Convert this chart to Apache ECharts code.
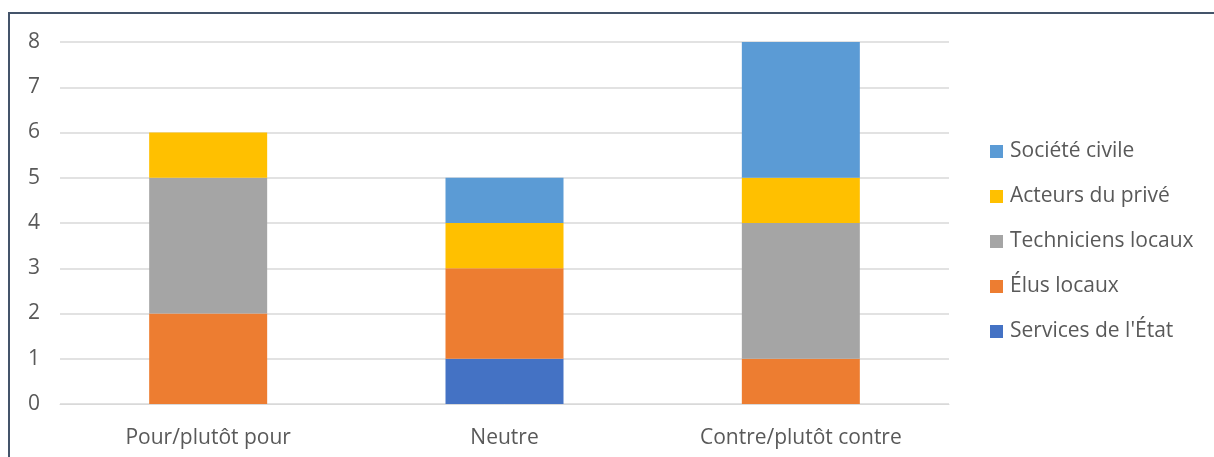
<!DOCTYPE html>
<html><head><meta charset="utf-8">
<script src="https://cdn.jsdelivr.net/npm/echarts@6/dist/echarts.min.js"></script>
<style>html,body{margin:0;padding:0;background:#fff}#c{width:1214px;height:457px}</style>
</head><body><div id="c"></div>
<script>
const categories = ['Pour/plutôt pour', 'Neutre', 'Contre/plutôt contre'];
const seriesNames = ["Services de l'État", 'Élus locaux', 'Techniciens locaux', 'Acteurs du privé', 'Société civile'];
const servicesEtat = [0, 1, 0];
const elusLocaux = [2, 2, 1];
const techniciensLocaux = [3, 0, 3];
const acteursPrive = [1, 1, 1];
const societeCivile = [0, 1, 3];
const colors = ['#4472C4', '#ED7D31', '#A5A5A5', '#FFC000', '#5B9BD5'];
const yTicks = [0, 1, 2, 3, 4, 5, 6, 7, 8];

const values = [servicesEtat, elusLocaux, techniciensLocaux, acteursPrive, societeCivile];
const font = 'Open Sans';
const chart = echarts.init(document.getElementById('c'));
chart.setOption({
  animation: false,
  textStyle: { fontFamily: font },
  graphic: [{
    type: 'rect', shape: { x: 9, y: 13, width: 1230, height: 470 },
    style: { fill: 'none', stroke: '#44546A', lineWidth: 2 }, silent: true
  }],
  grid: { left: 60, right: 265, top: 42, bottom: 53 },
  legend: {
    orient: 'vertical', left: 990, top: 141, padding: 0, itemWidth: 13, itemHeight: 13, itemGap: 24,
    icon: 'rect',
    data: seriesNames.slice().reverse(),
    textStyle: { fontFamily: font, fontSize: 21, color: '#595959', padding: [0, 0, 0, 2] }
  },
  xAxis: {
    type: 'category', data: categories,
    axisLine: { lineStyle: { color: '#D9D9D9' } }, axisTick: { show: false },
    axisLabel: { fontFamily: font, fontSize: 21, color: '#595959', margin: 24 }
  },
  yAxis: {
    type: 'value', min: yTicks[0], max: yTicks[yTicks.length - 1], interval: 1,
    axisLine: { show: false }, axisTick: { show: false },
    splitLine: { lineStyle: { color: '#D9D9D9', width: 1.5 } },
    axisLabel: { fontFamily: font, fontSize: 21, color: '#595959', margin: 20 }
  },
  series: seriesNames.map((n, i) => ({
    name: n, type: 'bar', stack: 'total', barWidth: 118,
    itemStyle: { color: colors[i] },
    data: values[i]
  }))
});
</script></body></html>
